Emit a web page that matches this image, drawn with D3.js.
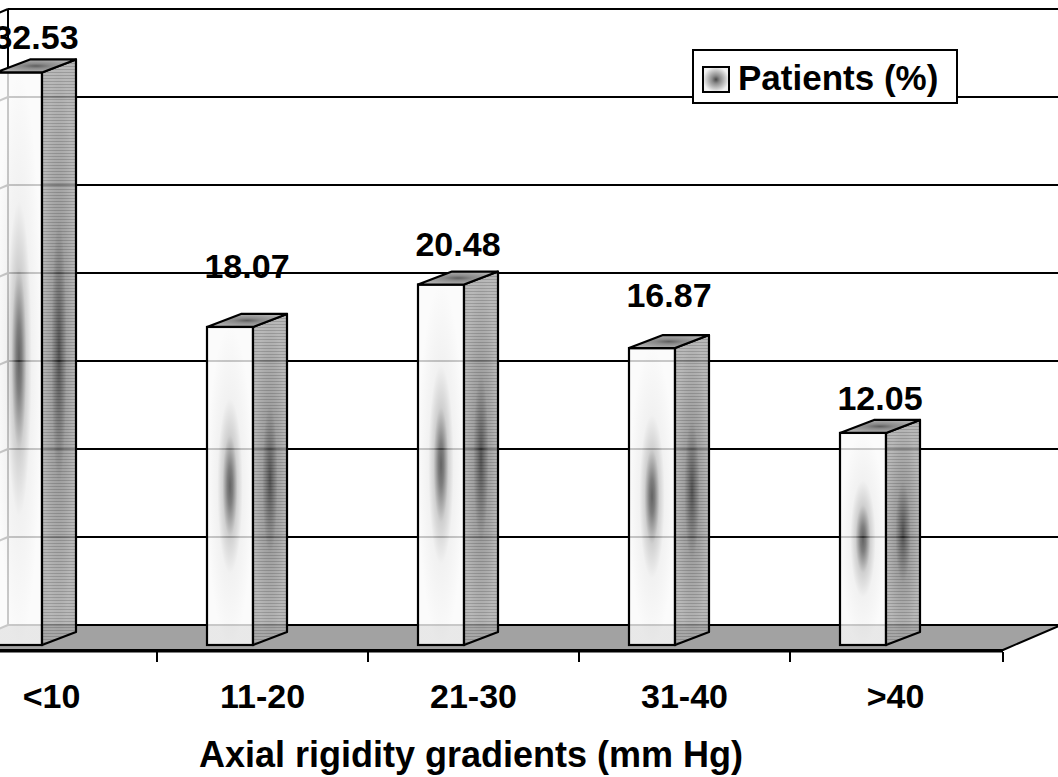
<!DOCTYPE html>
<html>
<head>
<meta charset="utf-8">
<script src="https://cdn.jsdelivr.net/npm/d3@7"></script>
<style>
  html, body { margin: 0; padding: 0; background: #fff; }
  svg { display: block; }
  text { font-family: "Liberation Sans", Arial, Helvetica, sans-serif; font-weight: bold; fill: #000; }
</style>
</head>
<body>
<svg id="chart" width="1058" height="777"></svg>
<script>
// Share of patients per axial rigidity gradient band
const categories = ["<10", "11-20", "21-30", "31-40", ">40"];
const patients = [32.53, 18.07, 20.48, 16.87, 12.05];
const yTicks = [5, 10, 15, 20, 25, 30, 35];
const seriesName = "Patients (%)";
const axisTitle = "Axial rigidity gradients (mm Hg)";

// Layout of the 3D box (projected pixel geometry)
const W = 1058, H = 777;
const floorBackY = 625, floorFrontY = 650;
const depthDX = 58, depthDY = -25;          // full floor depth
const barDX = 34, barDY = -13;              // depth of one column
const barFrontDrop = 20;                     // column front sits 20px below back-wall level
const barOffset = 50, barWidth = 46;
const labelLift = [10, 36, 16, 28, 10];      // gap between column top and its value label

const svg = d3.select("#chart");

const x = d3.scaleBand().domain(categories).range([-54, 1001]).paddingInner(0).paddingOuter(0);
const y = d3.scaleLinear().domain([0, 35]).range([floorBackY, 9]);
const wallLeft = x.range()[0] + depthDX + 4;   // left corner of back wall
const wallRight = x.range()[1] + depthDX;

// ---------- gradients / patterns ----------
const defs = svg.append("defs");
function radial(id, stops) {
  const g = defs.append("radialGradient").attr("id", id)
    .attr("cx", 0.5).attr("cy", 0.5).attr("r", 0.5);
  stops.forEach(([o, c]) => g.append("stop").attr("offset", o).attr("stop-color", c));
}
radial("frontFill", [[0, "#3c3c3c"], [0.12, "#5e5e5e"], [0.32, "#c4c4c4"], [0.55, "#eeeeee"], [1, "#fafafa"]]);
radial("sideFill", [[0, "#2e2e2e"], [0.18, "#555"], [0.45, "#8d8d8d"], [1, "#a9a9a9"]]);
radial("topFill", [[0, "#5f5f5f"], [0.35, "#8a8a8a"], [1, "#b0b0b0"]]);
radial("keyFill", [[0, "#4a4a4a"], [0.3, "#8a8a8a"], [1, "#f2f2f2"]]);

const stripes = defs.append("pattern").attr("id", "stripes")
  .attr("patternUnits", "userSpaceOnUse").attr("width", 6).attr("height", 3);
stripes.append("rect").attr("x", 0).attr("y", 0).attr("width", 6).attr("height", 1)
  .attr("fill", "rgba(0,0,0,0.16)");

// ---------- back wall gridlines ----------
const grid = svg.append("g");
grid.selectAll("line.grid").data(yTicks).join("line")
  .attr("x1", wallLeft).attr("x2", wallRight + 10)
  .attr("y1", d => y(d)).attr("y2", d => y(d))
  .attr("stroke", "#000").attr("stroke-width", 2);
// left side wall gridlines, slanting toward the viewer
grid.selectAll("line.side").data(yTicks).join("line")
  .attr("x1", wallLeft).attr("y1", d => y(d))
  .attr("x2", wallLeft - depthDX).attr("y2", d => y(d) - depthDY)
  .attr("stroke", "#000").attr("stroke-width", 2);
// back wall corner
grid.append("line")
  .attr("x1", wallLeft).attr("x2", wallLeft)
  .attr("y1", y(35)).attr("y2", floorBackY)
  .attr("stroke", "#000").attr("stroke-width", 2);

// ---------- floor ----------
const floorPts = [
  [wallLeft - depthDX, floorFrontY],
  [x.range()[1] + 2, floorFrontY],
  [x.range()[1] + 2 + depthDX, floorFrontY + depthDY],
  [wallLeft, floorBackY]
];
svg.append("polygon")
  .attr("points", floorPts.map(p => p.join(",")).join(" "))
  .attr("fill", "#a2a2a2").attr("stroke", "#000").attr("stroke-width", 2)
  .attr("stroke-linejoin", "round");
svg.append("line")
  .attr("x1", wallLeft - depthDX).attr("x2", x.range()[1] + 2)
  .attr("y1", floorFrontY + 1).attr("y2", floorFrontY + 1)
  .attr("stroke", "#000").attr("stroke-width", 3);

// category ticks on the floor front edge
const tickXs = categories.slice(1).map(c => x(c)).concat([x.range()[1] + 2]);
svg.append("g").selectAll("line").data(tickXs).join("line")
  .attr("x1", d => d).attr("x2", d => d)
  .attr("y1", floorFrontY + 2).attr("y2", floorFrontY + 12)
  .attr("stroke", "#000").attr("stroke-width", 2);

// ---------- columns ----------
const bars = svg.append("g").selectAll("g.bar")
  .data(categories.map((c, i) => ({ c, v: patients[i], i })))
  .join("g").attr("class", "bar");

const frontTop = d => y(d.v) + barFrontDrop;
const frontBottom = y(0) + barFrontDrop;
const x0 = d => x(d.c) + barOffset;

bars.append("rect")
  .attr("x", x0).attr("y", frontTop)
  .attr("width", barWidth).attr("height", d => frontBottom - frontTop(d))
  .attr("fill", "url(#frontFill)").attr("fill-opacity", 0.8)
  .attr("stroke", "#000").attr("stroke-width", 2.2);

const sidePts = d => [
  [x0(d) + barWidth, frontTop(d)],
  [x0(d) + barWidth + barDX, frontTop(d) + barDY],
  [x0(d) + barWidth + barDX, frontBottom + barDY],
  [x0(d) + barWidth, frontBottom]
].map(p => p.join(",")).join(" ");
bars.append("polygon").attr("points", sidePts)
  .attr("fill", "url(#sideFill)").attr("fill-opacity", 0.82);
bars.append("polygon").attr("points", sidePts)
  .attr("fill", "url(#stripes)")
  .attr("stroke", "#000").attr("stroke-width", 2.2).attr("stroke-linejoin", "round");

bars.append("polygon")
  .attr("points", d => [
    [x0(d), frontTop(d)],
    [x0(d) + barDX, frontTop(d) + barDY],
    [x0(d) + barWidth + barDX, frontTop(d) + barDY],
    [x0(d) + barWidth, frontTop(d)]
  ].map(p => p.join(",")).join(" "))
  .attr("fill", "url(#topFill)")
  .attr("stroke", "#000").attr("stroke-width", 2.2).attr("stroke-linejoin", "round");

// value labels
bars.append("text")
  .attr("x", d => x0(d) + (barWidth + barDX) / 2)
  .attr("y", d => frontTop(d) + barDY - labelLift[d.i])
  .attr("text-anchor", "middle")
  .attr("font-size", 34)
  .text(d => d3.format(".2f")(d.v));

// ---------- category axis ----------
svg.append("g").selectAll("text").data(categories).join("text")
  .attr("x", d => x(d) + x.bandwidth() / 2)
  .attr("y", 708)
  .attr("text-anchor", "middle")
  .attr("font-size", 34)
  .text(d => d);

svg.append("text")
  .attr("x", 471).attr("y", 767)
  .attr("text-anchor", "middle")
  .attr("font-size", 36)
  .text(axisTitle);

// ---------- legend ----------
const legend = svg.append("g").attr("transform", "translate(693,50)");
legend.append("rect").attr("width", 264).attr("height", 53)
  .attr("fill", "#fff").attr("stroke", "#000").attr("stroke-width", 2);
legend.append("rect").attr("x", 10).attr("y", 17).attr("width", 26).attr("height", 25)
  .attr("fill", "url(#keyFill)").attr("stroke", "#000").attr("stroke-width", 2);
legend.append("text").attr("x", 45).attr("y", 40)
  .attr("font-size", 35).text(seriesName);
</script>
</body>
</html>
